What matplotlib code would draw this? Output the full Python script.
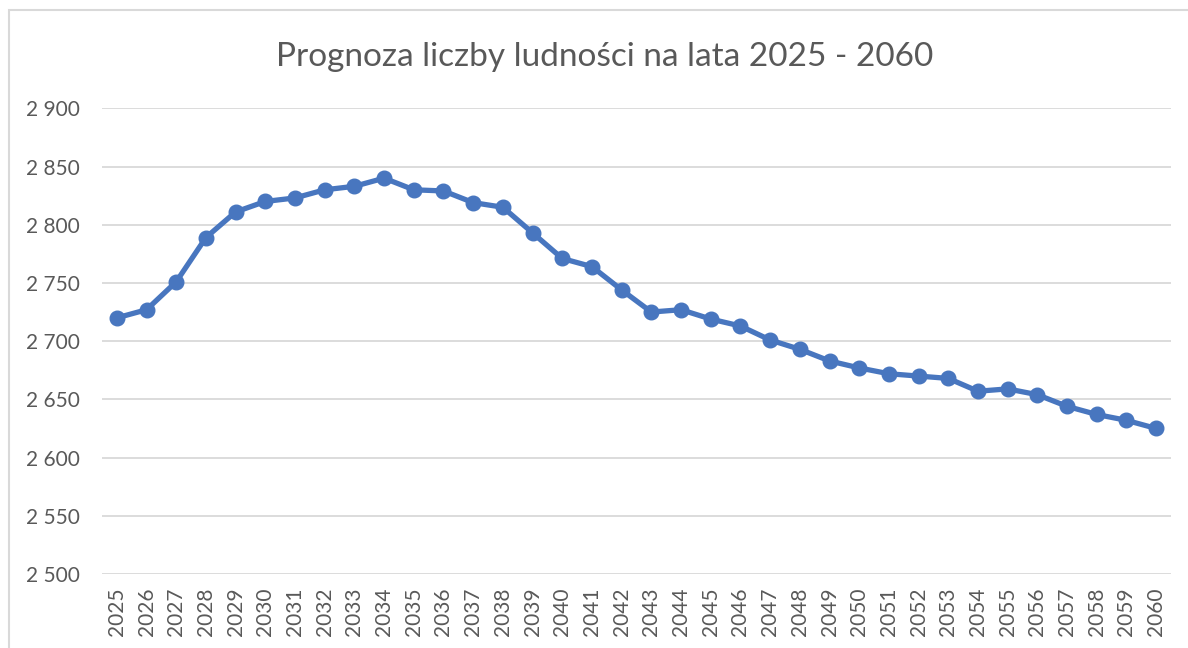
import matplotlib
matplotlib.use("Agg")
import matplotlib.pyplot as plt
from matplotlib.patches import Rectangle
from matplotlib.ticker import FuncFormatter

years = [str(y) for y in range(2025, 2061)]
population = [
    2720, 2727, 2751, 2789, 2811, 2820, 2823, 2830, 2833, 2840,
    2830, 2829, 2819, 2815, 2793, 2771, 2764, 2744, 2725, 2727,
    2719, 2713, 2701, 2693, 2683, 2677, 2672, 2670, 2668, 2657,
    2659, 2654, 2644, 2637, 2632, 2625,
]
y_ticks = list(range(2500, 2901, 50))
title = "Prognoza liczby ludności na lata 2025 - 2060"

plt.rcParams["font.family"] = ["Lato", "DejaVu Sans"]
text_color = "#595959"
grid_color = "#D9D9D9"
line_color = "#4876BF"

W, H = 1188, 648
fig = plt.figure(figsize=(W / 100, H / 100), dpi=100)
fig.patch.set_facecolor("white")

# light chart frame
fig.patches.append(Rectangle((9 / W, -0.5), 2.0, 1.5 - 10 / H,
                             transform=fig.transFigure, fill=False,
                             edgecolor=grid_color, linewidth=1.5))

ax = fig.add_axes([102 / W, 1 - 574 / H, (1171 - 102) / W, (574 - 108.3) / H])
x = list(range(len(years)))
ax.plot(x, population, color=line_color, linewidth=3.8, marker="o",
        markersize=10.5, markerfacecolor=line_color, markeredgecolor=line_color,
        solid_capstyle="round", solid_joinstyle="round", zorder=3)

ax.set_xlim(-0.5, len(years) - 0.5)
ax.set_ylim(2500, 2900)
ax.set_yticks(y_ticks)
ax.yaxis.set_major_formatter(FuncFormatter(lambda v, p: f"{int(v):,}".replace(",", " ")))
ax.set_xticks(x)
ax.set_xticklabels(years, rotation=90)

ax.grid(axis="y", color=grid_color, linewidth=1.3)
ax.set_axisbelow(True)
for s in ax.spines.values():
    s.set_visible(False)
ax.tick_params(axis="both", length=0, labelsize=15, colors=text_color)
ax.tick_params(axis="y", pad=16)
ax.tick_params(axis="x", pad=10)

fig.text(605 / W, 1 - 57 / H, title, ha="center", va="center",
         fontsize=24, color=text_color)

fig.savefig("out.png", dpi=100)
